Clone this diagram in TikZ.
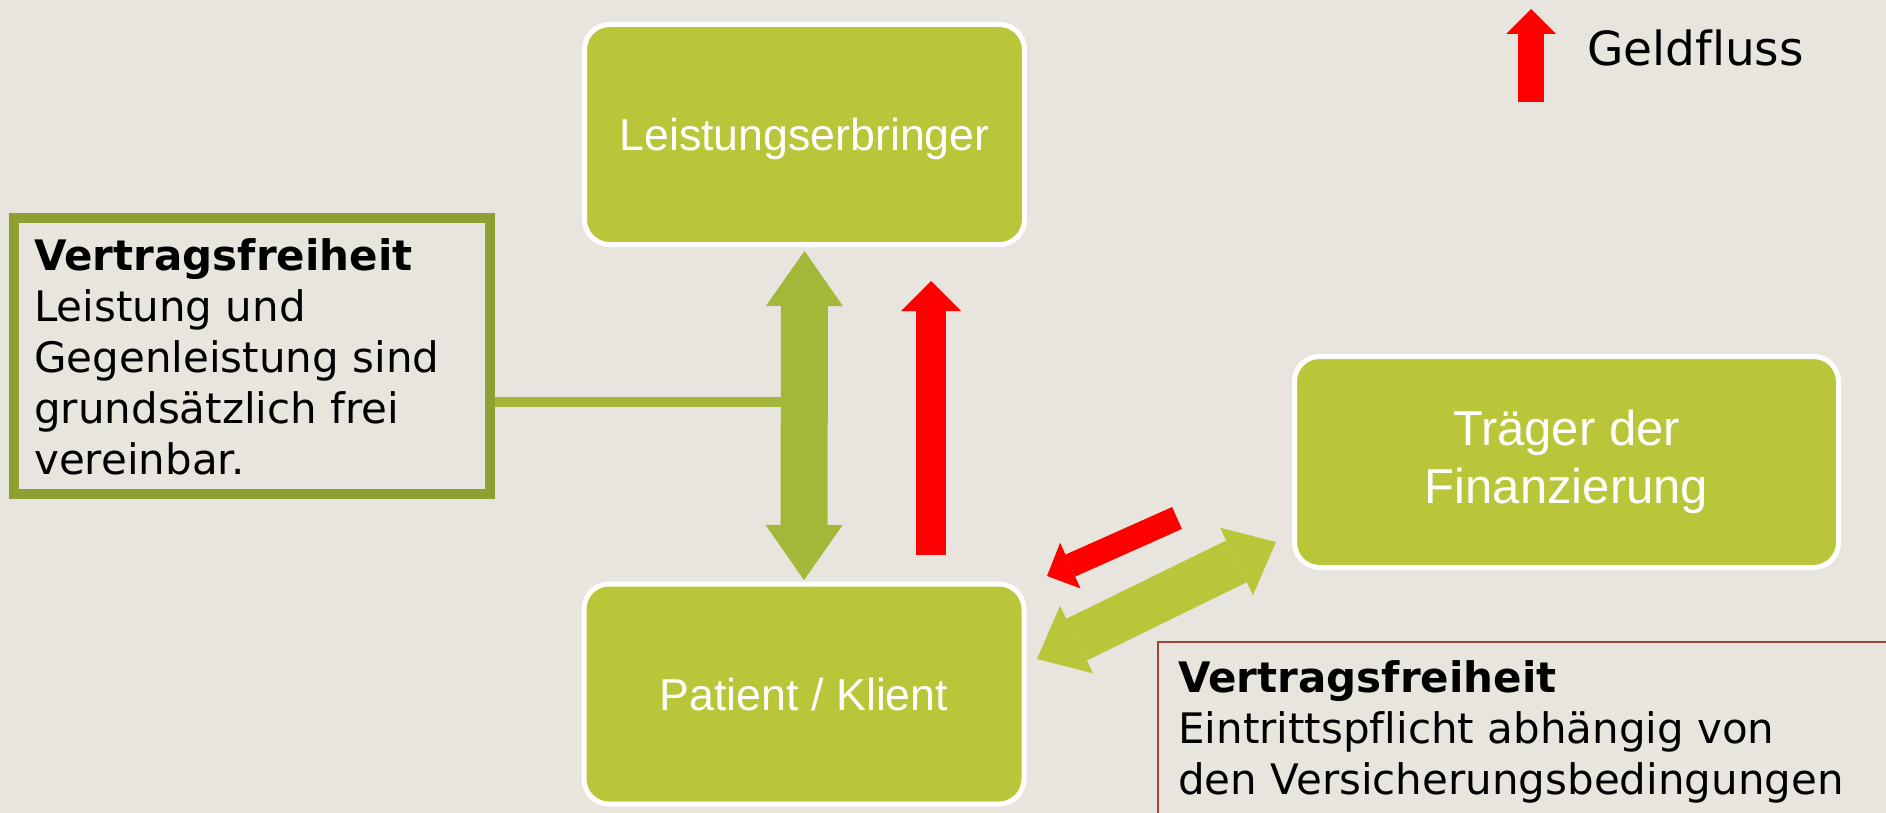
\documentclass[tikz,border=0pt]{standalone}
\usepackage{fontspec}
\setmainfont{DejaVu Sans}[Ligatures=NoCommon]
\newfontfamily\boxfont{Liberation Sans}[Ligatures=NoCommon]
\usetikzlibrary{arrows.meta,calc}

\definecolor{bgcol}{HTML}{E8E4DE}
\definecolor{boxgreen}{HTML}{B9C63A}
\definecolor{flowgreen}{HTML}{A4B739}
\definecolor{frameolive}{HTML}{8FA032}
\definecolor{framered}{HTML}{A5453A}
\definecolor{moneyred}{HTML}{FF0000}

\begin{document}
\begin{tikzpicture}[x=1pt,y=-1pt,
  stage/.style={rounded corners=25pt, fill=boxgreen, draw=white, line width=5pt,
    text=white, inner sep=0pt, font=\boxfont\fontsize{44.7}{50}\selectfont},
  note/.style={anchor=north west, align=left, inner sep=0pt,
    font=\fontsize{42}{51}\selectfont},
  flow/.style={draw=flowgreen},
  money/.style={draw=moneyred, fill=moneyred},
  tip/.style n args={2}{-{Triangle[length=#1pt,width=#2pt,line width=0pt]}},
  twotips/.style n args={2}{{Triangle[length=#1pt,width=#2pt,line width=0pt]}-{Triangle[length=#1pt,width=#2pt,line width=0pt]}}
]
% background and page size
\fill[bgcol] (0,0) rectangle (1886,813);
\useasboundingbox (0,0) rectangle (1886,813);
\clip (0,0) rectangle (1886,813);

% the three parties
\node[stage, minimum width=440pt, minimum height=220pt, text depth=0pt] (L) at (804.5,134.5) {Leistungserbringer};
\node[stage, minimum width=440pt, minimum height=220pt, text depth=0pt] (P) at (804,694) {Patient / Klient};
\node[stage, minimum width=544pt, minimum height=211pt, align=center,
      font=\boxfont\fontsize{49}{58}\selectfont] (F) at (1566.5,462) {Träger der\\Finanzierung};

% note on the left, tied to the double arrow
\node[draw=frameolive, line width=10pt, minimum width=476pt, minimum height=276pt, inner sep=0pt] (V1) at (252,356) {};
\node[note] (V1t) at (34,238) {\textbf{Vertragsfreiheit}\\Leistung und\\Gegenleistung sind\\grundsätzlich frei\\vereinbar.};
\coordinate (hub) at (790,402);
\draw[flow, line width=10pt] (hub -| V1.east) -- (hub);

% note at the bottom right
\node[draw=framered, line width=2pt, minimum width=742pt, minimum height=188pt, inner sep=0pt] (V2) at (1529,736) {};
\node[note] (V2t) at (1178,660) {\textbf{Vertragsfreiheit}\\Eintrittspflicht abhängig von\\den Versicherungsbedingungen};

% contract between provider and patient
\draw[flow, line width=47pt, twotips={55}{77}, shorten <=4pt, shorten >=1.5pt] (L.south) -- (P.north);

% payment from patient to provider
\coordinate (m1) at (931,555);
\coordinate (m2) at (931,281);
\draw[money, line width=30pt, tip={30}{60}] (m1) -- (m2);

% contract between patient and insurer
\coordinate (d1) at (1276,542);
\coordinate (d2) at (1037,659);
\draw[draw=boxgreen, fill=boxgreen, line width=46.5pt, twotips={44}{75}] (d2) -- (d1);

% payment from insurer to patient
\coordinate (r1) at (1177,518);
\coordinate (r2) at (1047,576);
\draw[money, line width=24pt, tip={25.5}{50}] (r1) -- (r2);

% legend
\coordinate (g0) at (1531,102);
\coordinate (g1) at (1531,9);
\draw[money, line width=26pt, tip={25}{50}] (g0) -- (g1);
\node[anchor=base west, inner sep=0pt, font=\fontsize{47}{56}\selectfont] (G) at (1587,66) {Geldfluss};
\end{tikzpicture}
\end{document}
